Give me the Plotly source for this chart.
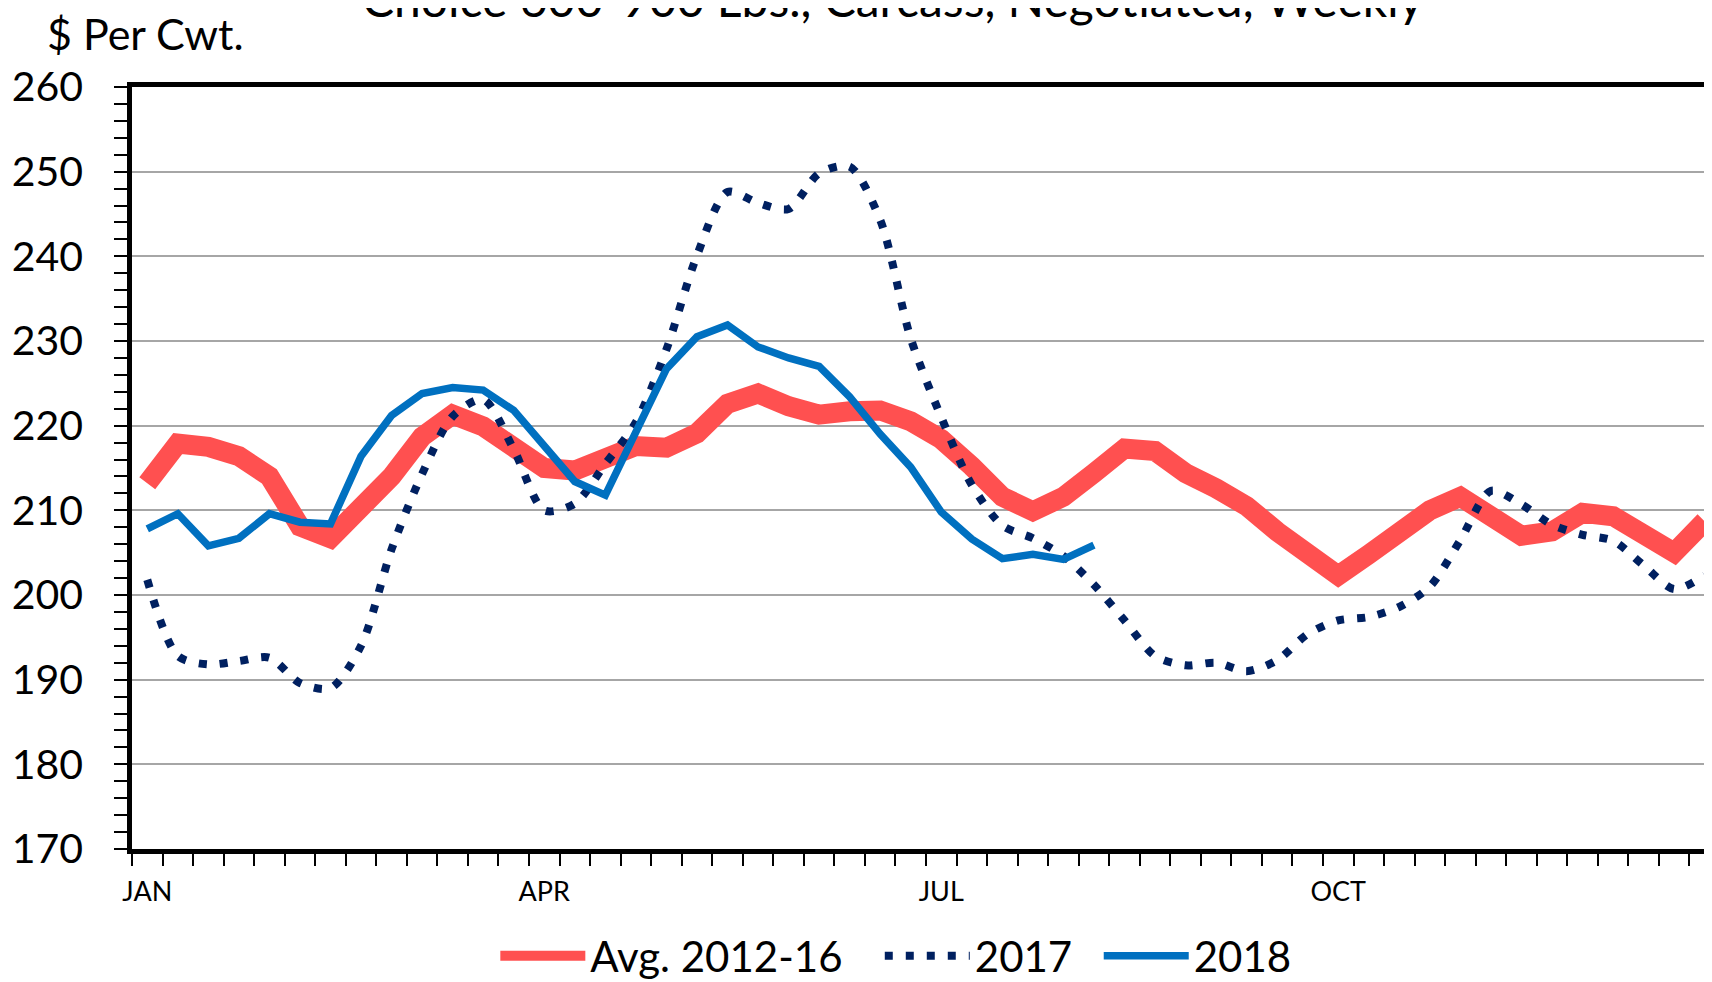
"""
Boxed beef cutout chart: Choice 600-900 Lbs., weekly, $ per cwt.
"""

import plotly.graph_objects as go


# ==========================================================
# DATA
# ==========================================================

weeks = list(range(52))

month_ticks = [0, 13, 26, 39]
month_labels = ["JAN", "APR", "JUL", "OCT"]

avg_2012_16 = [
    213.2, 217.9, 217.5, 216.4, 214.0, 208.1, 206.7, 210.5, 214.0, 218.7,
    221.3, 219.9, 217.5, 215.0, 214.7, 216.4, 217.6, 217.4, 219.1, 222.6,
    223.8, 222.3, 221.3, 221.7, 221.8, 220.5, 218.4, 215.2, 211.6, 209.9,
    211.6, 214.4, 217.3, 217.0, 214.4, 212.6, 210.5, 207.5, 204.8, 202.3,
    204.8, 207.4, 210.0, 211.6, 209.3, 207.0, 207.5, 209.7, 209.3, 207.0,
    205.0, 208.7
]

price_2017 = [
    201.8, 192.8, 191.8, 192.2, 192.6, 189.6, 189.0, 194.0, 205.4, 214.3,
    221.1, 223.1, 217.2, 210.0, 210.8, 215.5, 220.4, 229.0, 240.1, 247.6,
    246.3, 245.6, 249.8, 250.6, 244.3, 230.3, 221.0, 213.0, 208.2, 206.7,
    204.6, 201.2, 197.0, 192.8, 191.7, 192.0, 191.0, 192.3, 195.4, 197.0,
    197.4, 198.6, 201.0, 206.5, 212.3, 210.7, 208.3, 207.1, 206.4, 203.5,
    200.7, 202.3
]

price_2018 = [
    207.8, 209.6, 205.8, 206.7, 209.6, 208.6, 208.4, 216.4, 221.2, 223.8,
    224.5, 224.2, 221.8, 217.5, 213.4, 211.8, 219.2, 226.7, 230.5, 231.9,
    229.3, 228.0, 227.0, 223.4, 219.0, 215.1, 209.8, 206.6, 204.3, 204.8,
    204.2, 205.9
]


# ==========================================================
# STYLE
# ==========================================================

FONT = "Lato, 'Open Sans', Arial, sans-serif"

RED = "#FF5050"
NAVY = "#002060"
BLUE = "#0070C0"
GRID = "#A6A6A6"

PAD = "\u00a0" * 3   # extra room between legend entries


# ==========================================================
# FIGURE
# ==========================================================

fig = go.Figure()

fig.add_trace(
    go.Scatter(
        x=weeks,
        y=avg_2012_16,
        mode="lines",
        name="Avg. 2012-16" + PAD,
        line=dict(color=RED, width=20)
    )
)

fig.add_trace(
    go.Scatter(
        x=weeks,
        y=price_2017,
        mode="lines",
        name="2017" + "\u00a0" * 2,
        line=dict(color=NAVY, width=8, dash="8px,13px",
                  shape="spline", smoothing=0.8)
    )
)

fig.add_trace(
    go.Scatter(
        x=weeks[:len(price_2018)],
        y=price_2018,
        mode="lines",
        name="2018",
        line=dict(color=BLUE, width=7.5)
    )
)


# ----------------------------------------------------------
# Titles (the chart title is cut by the top edge, as in the source image)
# ----------------------------------------------------------

fig.add_annotation(
    text="Choice 600-900 Lbs., Carcass, Negotiated, Weekly",
    xref="paper", yref="paper",
    x=0.479, y=1.1165,
    xanchor="center", yanchor="middle",
    showarrow=False,
    font=dict(family=FONT, size=48, color="black")
)

fig.add_annotation(
    text="$ Per Cwt.",
    xref="paper", yref="paper",
    x=-0.0549, y=1.0700,
    xanchor="left", yanchor="middle",
    showarrow=False,
    font=dict(family=FONT, size=43, color="black")
)


# ----------------------------------------------------------
# Layout
# ----------------------------------------------------------

fig.update_layout(
    width=1712,
    height=982,
    autosize=False,
    paper_bgcolor="white",
    plot_bgcolor="white",
    font=dict(family=FONT, color="black"),
    margin=dict(l=124, r=0, t=79, b=136),
    showlegend=True,
    legend=dict(
        orientation="h",
        x=0.481,
        y=-0.1404,
        xanchor="center",
        yanchor="middle",
        font=dict(family=FONT, size=42, color="black"),
        itemwidth=85,
        bgcolor="rgba(0,0,0,0)"
    ),
    xaxis=dict(
        range=[-0.5, 51.5],
        tickmode="array",
        tickvals=month_ticks,
        ticktext=month_labels,
        ticks="outside",
        ticklen=12,
        tickcolor="rgba(0,0,0,0)",
        ticklabelstandoff=3,
        tickfont=dict(family=FONT, size=27, color="black"),
        showgrid=False,
        zeroline=False,
        showline=True,
        linecolor="black",
        linewidth=4.5,
        mirror=True,
        minor=dict(
            tickmode="linear",
            tick0=-0.5,
            dtick=1,
            ticks="outside",
            ticklen=12,
            tickwidth=2,
            tickcolor="black",
            showgrid=False
        )
    ),
    yaxis=dict(
        range=[170, 260],
        tickmode="linear",
        tick0=170,
        dtick=10,
        ticks="outside",
        ticklen=13,
        tickwidth=2,
        tickcolor="black",
        ticklabelstandoff=23,
        tickfont=dict(family=FONT, size=41, color="black"),
        showgrid=True,
        gridcolor=GRID,
        gridwidth=2,
        zeroline=False,
        showline=True,
        linecolor="black",
        linewidth=4.5,
        mirror=False,
        minor=dict(
            tickmode="linear",
            tick0=170,
            dtick=2,
            ticks="outside",
            ticklen=13,
            tickwidth=2,
            tickcolor="black",
            showgrid=False
        )
    )
)

fig.write_html("out.html")
